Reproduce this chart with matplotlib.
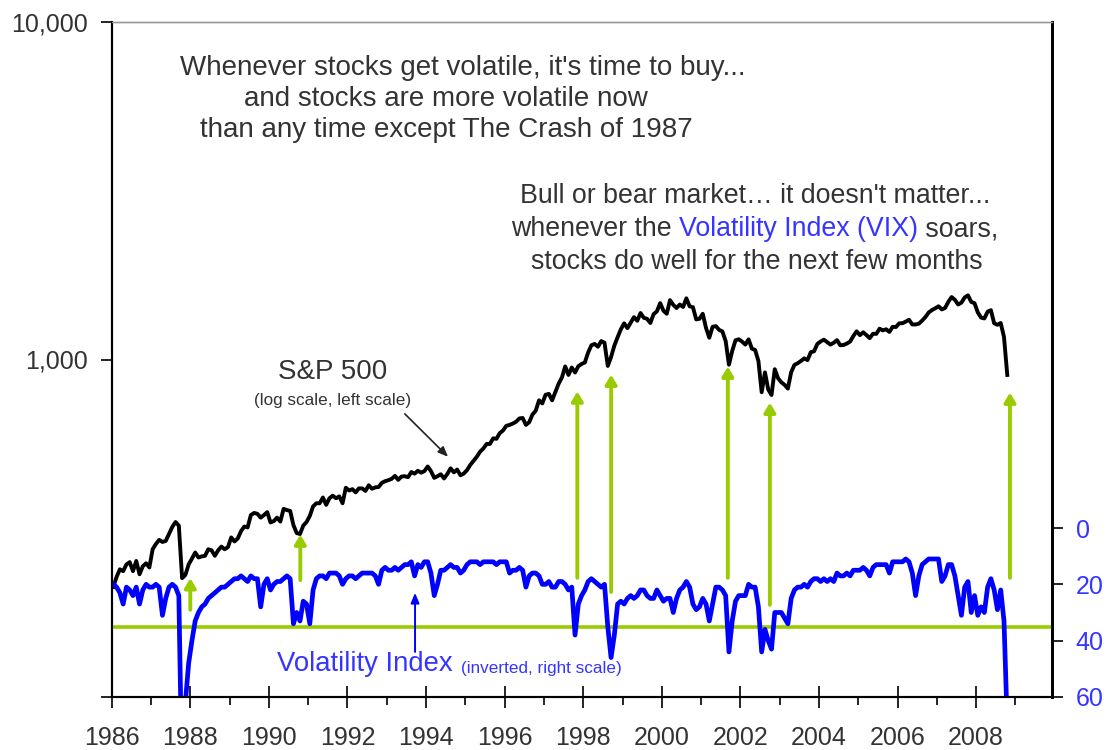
import numpy as np
import matplotlib
matplotlib.use("Agg")
import matplotlib.pyplot as plt

plt.rcParams['font.family'] = ['Liberation Sans', 'DejaVu Sans']

# monthly readings, Jan 1986 .. Oct 2008
spx = [212, 227, 239, 236, 247, 251, 236, 253, 231, 244, 249, 242,
       274, 284, 292, 288, 290, 304, 319, 330, 322, 225, 230, 247,
       257, 268, 259, 261, 262, 274, 272, 262, 272, 279, 274, 278,
       297, 289, 295, 310, 320, 318, 346, 351, 349, 340, 346, 353,
       329, 332, 340, 331, 361, 358, 356, 323, 306, 304, 322, 330,
       344, 367, 375, 375, 390, 371, 388, 395, 388, 393, 375, 417,
       409, 413, 404, 415, 415, 408, 424, 414, 418, 419, 431, 436,
       439, 443, 452, 440, 450, 451, 448, 464, 459, 468, 462, 467,
       482, 467, 446, 451, 457, 444, 458, 476, 463, 472, 454, 459,
       470, 487, 501, 515, 533, 545, 562, 562, 584, 582, 605, 616,
       636, 640, 646, 654, 669, 671, 640, 652, 687, 705, 757, 741,
       786, 791, 757, 801, 848, 885, 954, 900, 947, 915, 955, 970,
       980, 1049, 1102, 1112, 1091, 1134, 1121, 957, 1017, 1099, 1164, 1229,
       1280, 1238, 1286, 1335, 1302, 1373, 1329, 1320, 1283, 1363, 1389, 1469,
       1395, 1366, 1499, 1452, 1421, 1455, 1431, 1518, 1437, 1429, 1315, 1320,
       1366, 1240, 1160, 1250, 1256, 1224, 1211, 1134, 965, 1060, 1140, 1148,
       1130, 1107, 1147, 1077, 1067, 990, 800, 916, 815, 785, 936, 880,
       856, 841, 820, 917, 964, 975, 990, 1008, 996, 1051, 1058, 1112,
       1131, 1145, 1126, 1107, 1121, 1141, 1102, 1104, 1115, 1130, 1174, 1212,
       1181, 1204, 1181, 1157, 1192, 1191, 1234, 1220, 1229, 1207, 1250, 1248,
       1280, 1281, 1295, 1311, 1270, 1270, 1277, 1304, 1336, 1378, 1401, 1418,
       1438, 1407, 1421, 1482, 1531, 1503, 1455, 1474, 1527, 1549, 1481, 1468,
       1379, 1331, 1323, 1386, 1400, 1280, 1267, 1283, 1166, 900]

vix = [20, 21, 23, 27, 21, 22, 24, 21, 27, 22, 20, 21,
       21, 20, 21, 31, 25, 21, 20, 21, 24, 90, 62, 48,
       40, 33, 30, 28, 27, 25, 24, 23, 22, 21, 21, 20,
       19, 18, 18, 17, 18, 19, 17, 18, 18, 28, 20, 18,
       22, 20, 19, 19, 18, 17, 18, 34, 30, 33, 26, 27,
       34, 22, 18, 17, 17, 18, 16, 16, 16, 17, 20, 18,
       17, 17, 18, 17, 16, 16, 16, 16, 17, 20, 15, 14,
       15, 15, 14, 15, 14, 13, 13, 12, 17, 13, 14, 12,
       12, 16, 24, 20, 15, 15, 14, 13, 14, 14, 16, 15,
       13, 12, 12, 12, 13, 12, 12, 12, 12, 13, 12, 12,
       12, 16, 15, 15, 14, 15, 21, 17, 16, 16, 17, 20,
       20, 19, 21, 21, 19, 19, 20, 22, 21, 38, 27, 24,
       22, 19, 18, 19, 20, 21, 20, 35, 46, 38, 27, 26,
       27, 25, 24, 25, 24, 22, 22, 24, 25, 25, 22, 24,
       26, 25, 25, 30, 25, 22, 21, 19, 21, 27, 29, 28,
       25, 27, 33, 27, 21, 21, 22, 24, 44, 33, 26, 24,
       24, 24, 20, 21, 21, 28, 44, 36, 40, 43, 30, 30,
       30, 32, 34, 25, 22, 21, 21, 20, 21, 19, 18, 18,
       19, 18, 19, 18, 19, 16, 17, 17, 16, 17, 15, 15,
       15, 14, 15, 17, 14, 13, 13, 13, 13, 16, 12, 12,
       12, 12, 11, 12, 16, 24, 17, 13, 12, 11, 11, 11,
       11, 19, 17, 13, 13, 17, 24, 31, 21, 19, 30, 24,
       31, 28, 30, 21, 18, 22, 29, 22, 33, 70]

months = 1986 + (np.arange(len(spx)) + 0.5) / 12

# buy signals: date, VIX where arrow starts, S&P where it points
sig_year = [1988.0, 1990.8, 1997.85, 1998.71, 2001.68, 2002.75, 2008.86]
sig_vix = [29, 18.5, 17.7, 22.7, 17.7, 27.3, 17.7]
sig_spx = [225, 303, 804, 902, 953, 745, 798]

vix_line = 35

gray = '#333333'
blue = '#0000FF'
tblue = '#3535FF'
green = '#99CC00'
W, H = 1109, 750

fig = plt.figure(figsize=(W / 100, H / 100), dpi=100)
ax1 = fig.add_axes([111.7 / W, 53 / H, 940.3 / W, 675 / H])
ax2 = ax1.twinx()

ax1.plot(months, spx, color='black', lw=2.8, zorder=3)
ax1.set_yscale('log')
ax1.set_ylim(100, 10000)
ax1.set_xlim(1986, 2009.93)
ax1.set_yticks([100, 1000, 10000])
ax1.set_yticklabels(['', '1,000', '10,000'])
ax1.yaxis.set_minor_locator(matplotlib.ticker.NullLocator())
ax1.set_xticks(range(1986, 2009, 2))
ax1.set_xticks(range(1987, 2010, 2), minor=True)
ax1.tick_params(axis='y', labelsize=18, labelcolor=gray, length=8, width=1.2, pad=9)
ax1.tick_params(axis='x', which='major', direction='inout', length=16, width=1.2,
                labelsize=18, labelcolor=gray, pad=13)
ax1.tick_params(axis='x', which='minor', direction='out', length=6, width=1.2)

ax2.axhline(vix_line, color=green, lw=2.6, zorder=1)
ax2.plot(months, vix, color=blue, lw=3.4, zorder=2)
ax2.set_ylim(60, 60 - 675 / (169 / 60))
ax2.set_yticks([0, 20, 40, 60])
ax2.tick_params(axis='y', labelsize=18, labelcolor=tblue, length=8, width=1.2, pad=9)

for a in (ax1, ax2):
    a.spines['top'].set_color('#999999')
    a.spines['top'].set_linewidth(1.0)
    a.spines['left'].set_linewidth(1.5)
    a.spines['right'].set_linewidth(2)
    a.spines['bottom'].set_linewidth(1.5)

for x, v, s in zip(sig_year, sig_vix, sig_spx):
    ax2.annotate('', xy=(x, s), xycoords=ax1.transData,
                 xytext=(x, v), textcoords=ax2.transData,
                 arrowprops=dict(arrowstyle='-|>,head_length=0.55,head_width=0.33',
                                 color=green, lw=2.8, shrinkA=0, shrinkB=0),
                 zorder=5)

# pointer arrows for the two series
ax1.annotate('', xy=(1994.56, 515), xytext=(1993.46, 690),
             arrowprops=dict(arrowstyle='-|>,head_length=0.6,head_width=0.25',
                             color='#222222', lw=1.2, shrinkA=0, shrinkB=0))
ax2.annotate('', xy=(1993.72, 23), xytext=(1993.72, 44),
             arrowprops=dict(arrowstyle='-|>,head_length=0.6,head_width=0.25',
                             color=blue, lw=1.4, shrinkA=0, shrinkB=0))


def fx(x):
    return x / W


def fy(y):
    return 1 - y / H


head1 = ["Whenever stocks get volatile, it's time to buy...",
         "and stocks are more volatile now",
         "than any time except The Crash of 1987"]
for s, cx, cy in zip(head1, [463, 446, 446], [68, 99, 130]):
    fig.text(fx(cx), fy(cy), s, ha='center', va='center', fontsize=20, color=gray)

fig.text(fx(755), fy(196), "Bull or bear market\u2026 it doesn't matter...",
         ha='center', va='center', fontsize=19.3, color=gray)
fig.text(fx(757), fy(262), "stocks do well for the next few months",
         ha='center', va='center', fontsize=19.3, color=gray)

renderer = fig.canvas.get_renderer()
parts = [("whenever the ", gray), ("Volatility Index (VIX)", tblue), (" soars,", gray)]
objs = [fig.text(0, fy(229), s, ha='left', va='center', fontsize=19.3, color=c)
        for s, c in parts]
widths = [o.get_window_extent(renderer).width for o in objs]
start = 755 - sum(widths) / 2
for o, w in zip(objs, widths):
    o.set_x(fx(start))
    start += w

fig.text(fx(333), fy(372), "S&P 500", ha='center', va='center', fontsize=20, color=gray)
fig.text(fx(333), fy(401), "(log scale, left scale)", ha='center', va='center',
         fontsize=12.3, color=gray)

fig.text(fx(277), fy(664), "Volatility Index", ha='left', va='center',
         fontsize=19.8, color=tblue)
fig.text(fx(461), fy(669), "(inverted, right scale)", ha='left', va='center',
         fontsize=12.3, color=tblue)

fig.savefig('out.png', dpi=100)
